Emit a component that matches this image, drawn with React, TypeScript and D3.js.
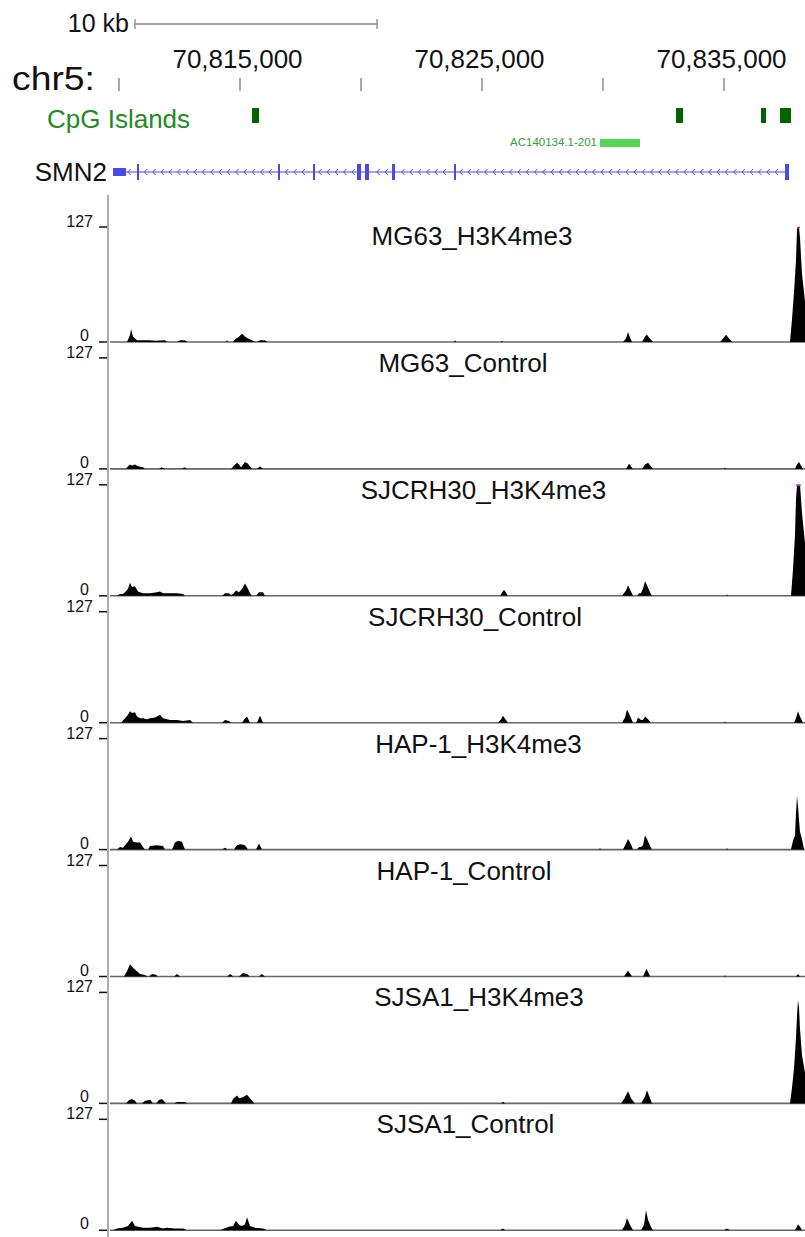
import React from "react";
import * as d3 from "d3";

// ---------- data (positions in kb offset from chr5:70,800,000) ----------
const CHROM = "chr5";
const ORIGIN_BP = 70800000;
const VIEW_KB: [number, number] = [9.628, 38.347];
const TICKS_KB = [10, 15, 20, 25, 30, 35];
const LABELED_TICKS_KB = [15, 25, 35];
const SCALE_BAR_KB = 10;
const Y_MAX = 127;

const cpgIslands: [number, number][] = [
  [15.496, 15.785],
  [33.017, 33.306],
  [36.529, 36.736],
  [37.314, 37.769],
];

const lncName = "AC140134.1-201";
const lncSpan: [number, number] = [29.876, 31.529];

const geneName = "SMN2";
const geneSpan: [number, number] = [9.752, 37.686];
const geneUtr: [number, number][] = [[9.752, 10.289]];
const geneExons: [number, number][] = [
  [10.744, 10.827],
  [16.57, 16.653],
  [18.016, 18.099],
  [19.835, 20.0],
  [20.165, 20.331],
  [21.281, 21.405],
  [23.843, 23.926],
  [37.521, 37.686],
];

const trackNames = [
  "MG63_H3K4me3",
  "MG63_Control",
  "SJCRH30_H3K4me3",
  "SJCRH30_Control",
  "HAP-1_H3K4me3",
  "HAP-1_Control",
  "SJSA1_H3K4me3",
  "SJSA1_Control",
];

const mg63H3k4: [number, number][] = [
  [10.331, 0], [10.455, 8], [10.496, 14], [10.579, 6], [10.744, 2], [10.992, 2], [11.281, 2], [11.488, 1.5], [11.901, 2], [11.983, 0],
  [12.397, 0], [12.52, 2], [12.727, 2], [12.81, 0],
  [14.42, 0], [14.463, 2], [14.51, 0],
  [14.711, 0], [14.793, 3], [14.917, 5], [15.0, 7], [15.083, 9], [15.207, 6], [15.331, 4], [15.496, 2], [15.62, 0],
  [15.702, 0], [15.826, 2], [16.033, 2], [16.116, 0],
  [23.84, 0], [23.884, 2], [23.93, 0],
  [25.78, 0], [25.826, 1.5], [25.87, 0],
  [30.826, 0], [30.95, 4], [31.033, 11], [31.116, 5], [31.198, 0],
  [31.612, 0], [31.736, 6], [31.818, 8], [31.942, 4], [32.066, 0],
  [34.835, 0], [34.959, 4], [35.083, 8], [35.207, 4], [35.331, 0],
  [37.727, 0], [37.81, 25], [37.893, 55], [37.975, 90], [38.017, 125], [38.058, 165], [38.099, 150], [38.14, 115], [38.223, 75], [38.347, 45],
];

const mg63Control: [number, number][] = [
  [10.29, 0], [10.372, 3], [10.455, 5], [10.537, 4], [10.661, 5], [10.785, 3], [10.992, 2], [11.074, 0],
  [11.65, 0], [11.75, 2], [11.9, 0],
  [12.6, 0], [12.7, 2], [12.81, 0],
  [14.628, 0], [14.752, 4], [14.876, 7], [14.96, 5], [15.04, 2], [15.083, 3], [15.207, 8], [15.331, 6], [15.496, 0],
  [15.702, 0], [15.826, 3], [15.95, 0],
  [30.95, 0], [31.075, 6], [31.24, 0],
  [31.612, 0], [31.736, 5], [31.86, 7], [31.98, 3], [32.066, 0],
  [35.0, 0], [35.041, 1.5], [35.083, 0],
  [37.934, 0], [38.017, 5], [38.099, 8], [38.182, 4], [38.264, 0],
];

const sjcrhH3k4: [number, number][] = [
  [9.917, 0], [10.041, 2], [10.165, 2], [10.248, 4], [10.372, 8], [10.455, 15], [10.537, 10], [10.661, 11], [10.785, 5],
  [10.992, 3], [11.281, 3], [11.57, 4], [11.694, 5], [11.818, 3], [12.107, 3], [12.397, 3], [12.645, 2], [12.73, 0],
  [14.257, 0], [14.38, 3], [14.545, 3], [14.628, 1], [14.711, 2], [14.835, 6], [14.96, 4], [15.083, 8], [15.207, 14], [15.33, 8], [15.413, 3], [15.5, 0],
  [15.66, 0], [15.785, 4], [15.95, 4], [16.033, 0],
  [25.744, 0], [25.909, 7], [26.074, 0],
  [30.785, 0], [30.95, 6], [31.033, 12], [31.157, 5], [31.24, 0],
  [31.405, 0], [31.488, 3], [31.57, 3], [31.653, 8], [31.736, 17], [31.818, 12], [31.942, 4], [32.025, 0],
  [35.083, 0], [35.124, 1.5], [35.166, 0],
  [37.768, 0], [37.851, 30], [37.934, 70], [37.975, 110], [38.017, 150], [38.058, 165], [38.099, 160], [38.14, 130], [38.223, 95], [38.347, 60],
];

const sjcrhControl: [number, number][] = [
  [10.083, 0], [10.248, 5], [10.372, 9], [10.455, 13], [10.537, 11], [10.661, 12], [10.744, 7], [10.868, 5], [10.992, 5], [11.157, 4],
  [11.281, 5], [11.488, 6], [11.694, 9], [11.818, 5], [11.983, 4], [12.107, 3], [12.397, 3], [12.645, 2], [12.934, 3], [13.058, 0],
  [14.257, 0], [14.38, 3], [14.545, 2], [14.628, 0],
  [15.083, 0], [15.207, 5], [15.29, 7], [15.413, 0],
  [15.702, 0], [15.826, 8], [15.95, 0],
  [25.66, 0], [25.785, 4], [25.867, 8], [25.992, 3], [26.074, 0],
  [30.785, 0], [30.909, 6], [30.992, 15], [31.116, 8], [31.24, 0],
  [31.36, 0], [31.446, 6], [31.57, 3], [31.653, 3], [31.736, 7], [31.86, 4], [31.98, 0],
  [35.0, 0], [35.041, 1.5], [35.083, 0],
  [37.893, 0], [37.975, 5], [38.058, 13], [38.14, 7], [38.264, 0],
];

const hapH3k4: [number, number][] = [
  [9.917, 0], [10.041, 3], [10.165, 2], [10.248, 5], [10.372, 9], [10.496, 15], [10.579, 9], [10.744, 8], [10.868, 8], [10.992, 3], [11.074, 0],
  [11.2, 0], [11.281, 4], [11.57, 5], [11.818, 4], [11.901, 0],
  [12.19, 0], [12.314, 8], [12.438, 10], [12.6, 9], [12.727, 0],
  [14.257, 0], [14.38, 2], [14.5, 0],
  [14.75, 0], [14.876, 5], [15.04, 6], [15.207, 5], [15.33, 0],
  [15.66, 0], [15.785, 7], [15.91, 0],
  [29.83, 0], [29.876, 1.5], [29.92, 0],
  [30.826, 0], [30.95, 7], [31.033, 12], [31.157, 6], [31.24, 0],
  [31.405, 0], [31.488, 3], [31.57, 3], [31.653, 5], [31.736, 16], [31.818, 12], [31.942, 4], [32.025, 0],
  [35.083, 0], [35.124, 1.5], [35.166, 0],
  [37.768, 0], [37.851, 10], [37.934, 16], [37.975, 42], [38.017, 61], [38.058, 50], [38.099, 34], [38.14, 20], [38.223, 12], [38.306, 0],
];

const hapControl: [number, number][] = [
  [10.2, 0], [10.331, 6], [10.455, 14], [10.579, 10], [10.744, 6], [10.868, 3], [11.033, 2], [11.2, 0],
  [11.24, 0], [11.36, 3], [11.53, 2], [11.6, 0],
  [12.27, 0], [12.4, 3], [12.52, 0],
  [14.46, 0], [14.6, 3], [14.72, 0],
  [14.96, 0], [15.12, 4], [15.29, 3], [15.41, 0],
  [15.78, 0], [15.9, 3], [16.03, 0],
  [30.87, 0], [31.03, 7], [31.2, 0],
  [31.65, 0], [31.8, 9], [31.95, 0],
  [35.0, 0], [35.04, 1.5], [35.08, 0],
  [37.97, 0], [38.06, 3], [38.14, 0],
];

const sjsaH3k4: [number, number][] = [
  [10.29, 0], [10.413, 4], [10.537, 5], [10.661, 3], [10.74, 0],
  [10.95, 0], [11.074, 3], [11.3, 4], [11.405, 0],
  [11.53, 0], [11.65, 4], [11.78, 5], [11.94, 0],
  [12.27, 0], [12.4, 1.5], [12.73, 1.5], [12.81, 0],
  [14.628, 0], [14.711, 5], [14.876, 9], [14.96, 6], [15.12, 7], [15.289, 10], [15.413, 6], [15.6, 0],
  [25.79, 0], [25.87, 2], [25.95, 0],
  [30.74, 0], [30.87, 5], [31.033, 14], [31.157, 6], [31.322, 0],
  [31.57, 0], [31.736, 8], [31.818, 15], [31.942, 6], [32.025, 0],
  [37.727, 0], [37.81, 18], [37.893, 40], [37.975, 75], [38.017, 100], [38.058, 118], [38.099, 110], [38.14, 85], [38.223, 55], [38.347, 35],
];

const sjsaControl: [number, number][] = [
  [9.752, 0], [9.917, 2], [10.165, 3], [10.372, 5], [10.537, 11], [10.661, 5], [10.785, 4], [10.992, 3], [11.281, 3], [11.57, 4], [11.818, 2], [11.983, 3], [12.314, 2], [12.645, 2], [12.81, 0],
  [14.174, 0], [14.34, 2], [14.545, 4], [14.711, 5], [14.835, 11], [14.96, 6], [15.083, 5], [15.207, 7], [15.289, 15], [15.413, 5], [15.62, 3], [15.95, 2], [16.116, 0],
  [25.744, 0], [25.867, 2], [25.95, 0],
  [30.785, 0], [30.909, 6], [30.992, 14], [31.116, 6], [31.24, 0],
  [31.57, 0], [31.694, 6], [31.777, 23], [31.86, 12], [31.98, 4], [32.066, 0],
  [35.0, 0], [35.124, 2], [35.248, 0],
  [37.934, 0], [38.058, 7], [38.14, 4], [38.223, 0],
];

const trackData = [mg63H3k4, mg63Control, sjcrhH3k4, sjcrhControl, hapH3k4, hapControl, sjsaH3k4, sjsaControl];

// ---------- layout ----------
const W = 805;
const H = 1237;
const PLOT_L = 110;
const PLOT_R = 805;
const AXIS_X = 108;
const FONT = "'Liberation Sans', Arial, Helvetica, sans-serif";
const labelCenters = [472, 463, 483.5, 475, 478.5, 464, 479, 465.5];
const GENE_COLOR = "#4a4ae6";

export default function App() {
  const x = d3.scaleLinear().domain(VIEW_KB).range([PLOT_L, PLOT_R]);
  const fmt = d3.format(",");
  const geneY = 172;

  const tracks = trackNames.map((name, i) => {
    const base = 342 + i * 126.9;
    const top = i === 0 ? 227 : base - 111;
    const y = d3.scaleLinear().domain([0, Y_MAX]).range([base, top]).clamp(true);
    const area = d3
      .area<[number, number]>()
      .x((d) => x(d[0]))
      .y0(base)
      .y1((d) => y(d[1]))
      .curve(d3.curveLinear);
    return { name, i, base, top, y, path: area(trackData[i]) || "", data: trackData[i] };
  });

  const gx0 = x(geneSpan[0]);
  const gx1 = x(geneSpan[1]);
  const blocks = [...geneUtr, ...geneExons].map(([a, b]) => [x(a), x(b)]);
  const chevrons = d3
    .range(gx0 + 16, gx1 - 3, 8.3)
    .filter((cx) => !blocks.some(([a, b]) => cx > a - 3 && cx < b + 3));

  const sb0 = x(VIEW_KB[0]) + 25;
  const sb1 = sb0 + (x(SCALE_BAR_KB) - x(0));

  return (
    <svg
      width={W}
      height={H}
      style={{ position: "absolute", left: 0, top: 0, background: "#fff" }}
      fontFamily={FONT}
    >
      <rect width={W} height={H} fill="#fff" />
      {/* scale bar */}
      <text x={sb0 - 6} y={32} fontSize={25} textAnchor="end" fill="#111">
        {SCALE_BAR_KB} kb
      </text>
      <line x1={sb0} x2={sb1} y1={24} y2={24} stroke="#888" strokeWidth={1.3} />
      <line x1={sb0} x2={sb0} y1={19} y2={29} stroke="#888" strokeWidth={1.3} />
      <line x1={sb1} x2={sb1} y1={19} y2={29} stroke="#888" strokeWidth={1.3} />

      {/* chromosome ruler */}
      <text x={12} y={90} fontSize={34} fill="#111" textLength={83} lengthAdjust="spacingAndGlyphs">
        {CHROM}:
      </text>
      {TICKS_KB.map((t) => (
        <line key={t} x1={x(t)} x2={x(t)} y1={78} y2={91} stroke="#aaa" strokeWidth={2} />
      ))}
      {LABELED_TICKS_KB.map((t) => (
        <text key={t} x={x(t) - 2.5} y={68} fontSize={26} textAnchor="middle" fill="#111">
          {fmt(ORIGIN_BP + t * 1000)}
        </text>
      ))}

      {/* CpG islands */}
      <text x={47} y={128} fontSize={26} fill="#228b22">
        CpG Islands
      </text>
      {cpgIslands.map(([a, b], k) => (
        <rect key={k} x={x(a)} y={108} width={Math.max(2, x(b) - x(a))} height={15} fill="#006400" />
      ))}

      {/* lncRNA */}
      <text x={x(lncSpan[0]) - 3} y={146} fontSize={11.5} textAnchor="end" fill="#3c9a3c">
        {lncName}
      </text>
      <rect x={x(lncSpan[0])} y={139} width={x(lncSpan[1]) - x(lncSpan[0])} height={8} fill="#55d655" />

      {/* gene */}
      <text x={107} y={181} fontSize={26} textAnchor="end" fill="#111">
        {geneName}
      </text>
      <line x1={gx0} x2={gx1} y1={geneY} y2={geneY} stroke={GENE_COLOR} strokeWidth={1.2} />
      {chevrons.map((cx, k) => (
        <path
          key={k}
          d={`M${cx + 1.6},${geneY - 3} L${cx - 1.2},${geneY} L${cx + 1.6},${geneY + 3}`}
          fill="none"
          stroke={GENE_COLOR}
          strokeWidth={1}
        />
      ))}
      {geneUtr.map(([a, b], k) => (
        <rect key={k} x={x(a)} y={geneY - 4} width={x(b) - x(a)} height={8} fill={GENE_COLOR} />
      ))}
      {geneExons.map(([a, b], k) => (
        <rect key={k} x={x(a)} y={geneY - 8} width={Math.max(2, x(b) - x(a))} height={16} fill={GENE_COLOR} />
      ))}

      {/* left axis line */}
      <line x1={AXIS_X} x2={AXIS_X} y1={195} y2={H} stroke="#999" strokeWidth={1.6} />

      {tracks.map((t) => (
        <g key={t.name}>
          <line x1={PLOT_L} x2={PLOT_R} y1={t.base} y2={t.base} stroke="#666" strokeWidth={1.6} />
          <path d={t.path} fill="#000" />
          {t.data
            .filter((d) => d[1] > Y_MAX)
            .map((d, k) => (
              <line key={k} x1={x(d[0]) - 1} x2={x(d[0]) + 1} y1={t.top + 0.5} y2={t.top + 0.5} stroke="#e020e0" strokeWidth={1.5} />
            ))}
          <text x={labelCenters[t.i]} y={t.base - 97} fontSize={26} textAnchor="middle" fill="#111">
            {t.name}
          </text>
          <text x={93} y={t.top} fontSize={16} textAnchor="end" fill="#111">
            {Y_MAX}
          </text>
          <line x1={99} x2={107} y1={t.top} y2={t.top} stroke="#111" strokeWidth={1.5} />
          <text x={89} y={t.base - 1} fontSize={16} textAnchor="end" fill="#111">
            0
          </text>
          <line x1={99} x2={107} y1={t.base} y2={t.base} stroke="#111" strokeWidth={1.5} />
        </g>
      ))}
    </svg>
  );
}
